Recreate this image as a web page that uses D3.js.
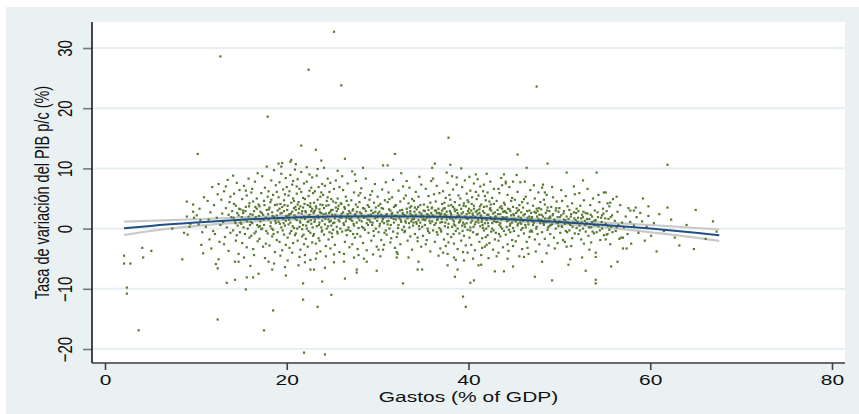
<!DOCTYPE html>
<html>
<head>
<meta charset="utf-8">
<script src="https://cdn.jsdelivr.net/npm/d3@7"></script>
<style>
  html, body { margin: 0; padding: 0; background: #ffffff; }
  svg { display: block; }
  text { font-family: "Liberation Sans", Arial, sans-serif; fill: #111; }
</style>
</head>
<body>
<svg id="chart" width="859" height="414"></svg>
<script>
// Axis ticks and titles
const xTicks = [0, 20, 40, 60, 80];
const yTicks = [-20, -10, 0, 10, 20, 30];
const xTitle = "Gastos (% of GDP)";
const yTitle = "Tasa de variación del PIB p/c (%)";

// Quadratic fit and its confidence band, sampled along gastos
const fitX   = [2.1, 5, 10, 15, 20, 25, 30, 35, 40, 45, 50, 55, 60, 65, 67.6];
const fitY   = [0.05, 0.45, 1.0, 1.45, 1.8, 2.0, 2.05, 2.0, 1.85, 1.5, 1.1, 0.6, 0.0, -0.7, -1.1];
const ciHigh = [1.15, 1.3, 1.55, 1.85, 2.12, 2.28, 2.32, 2.27, 2.12, 1.78, 1.42, 1.0, 0.6, 0.1, -0.15];
const ciLow  = [-1.05, -0.4, 0.45, 1.05, 1.48, 1.72, 1.78, 1.73, 1.58, 1.22, 0.78, 0.2, -0.6, -1.5, -2.05];

// Observations: [gastos (% of GDP), tasa de variación del PIB p/c (%)]
const puntos = [
[9.0,4.5],[9.7,4.0],[9.7,2.8],[9.0,2.0],[9.8,1.8],[9.4,0.8],[10.3,0.7],[9.3,0.3],[7.4,0.0],[8.7,-0.7],[9.1,-1.0],[10.6,-2.7],
[4.1,-3.2],[5.1,-3.7],[2.1,-4.5],[4.2,-4.8],[8.5,-5.1],[2.1,-5.8],[2.8,-5.8],[2.4,-9.8],[2.4,-10.8],[3.7,-16.9],[10.2,12.4],
[25.2,32.7],[12.7,28.6],[22.4,26.4],[26.0,23.8],[47.5,23.6],[17.9,18.6],[12.4,-15.1],[17.5,-16.9],[21.9,-20.6],[24.2,-20.9],
[18.5,-13.6],[21.8,-11.8],[23.4,-13.0],[24.9,-11.0],[39.4,-11.3],[39.7,-13.0],[61.9,10.6],[65.0,3.1],[59.2,5.0],[59.8,3.7],
[61.9,3.5],[60.1,-1.2],[60.7,-3.8],[62.7,-1.5],[66.1,-1.7],[45.4,12.3],[48.7,10.8],[46.4,10.1],[54.1,9.3],[50.8,9.3],
[21.6,13.8],[23.2,13.1],[19.1,10.8],[19.4,10.3],[20.4,11.1],[23.8,11.3],[12.5,-5.1],[12.4,-6.6],[14.3,-5.5],[14.7,-5.5],
[18.0,-5.5],[18.4,-6.8],[16.9,-7.5],[16.3,-8.1],[15.6,-8.1],[14.3,-8.5],[13.4,-9.0],[15.5,-10.1],[19.9,-7.8],[21.8,-9.1],
[23.9,-8.8],[22.6,-6.8],[23.0,-6.8],[22.0,-5.6],
[37.8,15.1],[26.4,11.6],[31.9,12.4],[30.6,10.5],[31.1,10.5],[28.4,10.1],[36.0,10.1],[36.3,10.8],[38.0,10.6],[27.2,9.5],
[40.8,9.0],[38.7,8.5],[26.4,-8.3],[27.7,-6.8],[27.7,-7.3],[29.9,-7.0],[32.8,-9.1],[34.4,-6.8],[34.9,-6.8],[34.5,-5.5],
[37.7,-6.1],[38.5,-8.0],[38.8,-6.8],[40.2,-9.0],[40.6,-8.6],[41.1,-6.1],[28.8,-5.5],[26.3,-5.5],[27.4,-4.8],[25.2,-4.3],
[32.1,-4.8],[32.2,-4.2],[30.1,-3.5],[30.6,-3.5],[37.7,-4.2],[38.4,-4.8],[39.5,-5.3],[39.9,-4.0],
[43.9,9.0],[44.9,7.8],[44.1,7.8],[48.2,7.3],[52.6,8.0],[53.1,6.6],[54.9,6.0],[55.1,6.0],[48.4,6.0],[41.7,7.3],
[43.3,-4.0],[44.3,-5.0],[44.9,-6.3],[42.9,-7.1],[43.9,-7.1],[46.1,-4.7],[46.6,-4.2],[47.3,-8.0],[48.1,-5.5],[49.2,-8.6],
[51.0,-6.0],[51.2,-5.1],[52.5,-4.8],[52.9,-7.0],[54.0,-4.0],[54.0,-4.7],[54.0,-8.5],[54.0,-9.1],[55.7,-6.3],[56.4,-5.5],
[57.0,-3.3],[57.4,-3.3],[55.1,-1.8],[41.4,-6.0],[41.5,-3.2],[42.0,-2.7],
[58.2,3.0],[57.8,3.0],[58.4,3.5],[56.8,-1.5],[57.0,-1.5],[55.2,-1.0],[56.3,0.2],[55.3,4.2],[55.6,4.3],
[10.4,3.3],[10.7,-0.6],[10.9,5.2],[10.5,1.4],[10.8,-4.1],[10.1,2.2],
[11.1,0.3],[11.3,4.6],[11.5,-1.8],[11.6,2.7],[11.8,6.9],[11.9,-0.4],[11.4,1.5],[11.7,-3.3],
[12.0,3.9],[12.1,-0.9],[12.3,1.8],[12.5,7.4],[12.6,-2.2],[12.7,0.6],[12.8,4.8],[12.9,2.5],[12.2,-5.9],[12.4,5.7],
[13.0,1.1],[13.1,6.2],[13.2,-1.4],[13.3,3.4],[13.4,0.2],[13.5,8.1],[13.6,2.3],[13.6,-3.7],[13.7,4.4],[13.8,-0.7],[13.9,1.9],[13.3,7.0],[13.8,5.3],[13.1,-2.6],
[14.0,2.9],[14.1,-0.3],[14.2,5.8],[14.3,1.3],[14.4,-2.0],[14.4,3.8],[14.5,7.6],[14.6,0.5],[14.7,2.2],[14.7,-4.2],[14.8,6.4],[14.9,1.0],[14.2,4.1],[14.5,-1.1],[14.9,3.2],[14.1,8.8],
[15.0,0.8],[15.1,4.9],[15.1,-2.4],[15.2,2.6],[15.3,7.1],[15.4,1.5],[15.4,-0.9],[15.5,3.6],[15.6,5.5],[15.6,-3.1],[15.7,0.0],[15.8,2.0],[15.8,8.3],[15.9,4.2],[15.3,-4.8],[15.5,6.3],[15.9,-1.5],[15.2,3.0],
[16.0,2.4],[16.1,6.0],[16.1,-1.2],[16.2,0.9],[16.3,4.5],[16.3,-3.4],[16.4,2.9],[16.5,7.8],[16.5,1.6],[16.6,-0.5],[16.7,5.0],[16.7,3.3],[16.8,-2.1],[16.8,9.2],[16.9,0.3],[16.9,4.0],[16.2,6.6],[16.4,-4.4],[16.6,1.9],[16.0,-6.2],
[17.0,3.7],[17.0,-1.7],[17.1,1.2],[17.2,5.9],[17.2,-0.1],[17.3,8.7],[17.4,2.3],[17.4,-3.0],[17.5,4.6],[17.5,0.6],[17.6,6.8],[17.7,1.8],[17.7,-2.5],[17.8,3.1],[17.8,10.3],[17.9,-0.8],[17.9,5.3],[17.1,2.8],[17.6,-4.9],[17.3,0.0],
[18.0,1.5],[18.0,6.2],[18.1,-2.8],[18.1,3.5],[18.2,0.4],[18.3,4.8],[18.3,8.0],[18.4,-1.3],[18.4,2.7],[18.5,5.6],[18.5,-0.2],[18.6,1.9],[18.6,9.7],[18.7,-3.9],[18.7,3.9],[18.8,0.9],[18.8,7.2],[18.9,2.2],[18.9,-1.9],[18.2,4.4],[18.6,-5.8],[18.9,6.1],
[19.0,3.0],[19.0,-0.6],[19.1,5.2],[19.1,1.1],[19.2,7.7],[19.2,-2.2],[19.3,2.5],[19.3,4.1],[19.4,0.2],[19.4,9.1],[19.5,-3.6],[19.5,3.6],[19.6,1.6],[19.6,6.5],[19.7,-1.0],[19.7,2.9],[19.8,5.7],[19.8,0.5],[19.9,8.4],[19.9,-2.7],[19.3,-4.5],[19.5,10.9],[19.7,4.7],[19.9,1.3],[19.2,3.3],[19.8,-6.4],
[20.0,2.0],[20.0,6.9],[20.1,-1.5],[20.1,3.8],[20.2,0.7],[20.2,5.5],[20.3,-3.2],[20.3,2.4],[20.4,8.9],[20.4,1.0],[20.5,4.3],[20.5,-0.4],[20.6,7.3],[20.6,2.8],[20.7,-2.4],[20.7,5.0],[20.8,0.1],[20.8,3.4],[20.9,9.8],[20.9,1.7],[20.1,-5.3],[20.3,6.2],[20.5,11.4],[20.6,-4.0],[20.8,4.6],[20.9,-1.1],[20.2,2.2],[20.7,7.9],
[21.0,3.1],[21.0,-0.8],[21.1,5.8],[21.1,1.4],[21.2,8.2],[21.2,-2.0],[21.3,2.6],[21.3,4.4],[21.4,0.3],[21.4,6.6],[21.5,-3.5],[21.5,3.7],[21.6,1.8],[21.6,9.4],[21.7,-1.3],[21.7,2.9],[21.8,5.1],[21.8,0.6],[21.9,7.5],[21.9,-2.6],[21.0,10.7],[21.2,4.0],[21.4,-4.7],[21.5,1.0],[21.6,6.1],[21.7,-0.1],[21.8,3.5],[21.9,2.0],[21.3,-6.1],[21.1,7.0],
[22.0,1.6],[22.0,4.9],[22.1,-1.7],[22.1,2.7],[22.2,7.8],[22.2,0.0],[22.3,3.9],[22.3,-3.0],[22.4,5.4],[22.4,1.2],[22.5,9.0],[22.5,2.3],[22.6,-0.7],[22.6,4.2],[22.7,6.8],[22.7,0.8],[22.8,-2.3],[22.8,3.3],[22.9,5.9],[22.9,1.9],[22.0,-4.4],[22.2,10.2],[22.4,-0.4],[22.5,6.3],[22.6,-5.2],[22.7,2.9],[22.8,8.5],[22.9,-1.2],[22.3,1.1],[22.6,3.6],
[23.0,2.8],[23.0,-0.9],[23.1,6.2],[23.1,1.5],[23.2,3.7],[23.2,-2.5],[23.3,8.8],[23.3,0.4],[23.4,4.8],[23.4,2.1],[23.5,-1.6],[23.5,6.9],[23.6,1.0],[23.6,3.2],[23.7,-3.8],[23.7,5.3],[23.8,0.2],[23.8,2.6],[23.9,7.4],[23.9,-0.3],[23.0,4.3],[23.2,-5.0],[23.4,9.9],[23.5,1.8],[23.6,-2.0],[23.7,4.0],[23.8,6.0],[23.9,1.3],[23.3,-4.1],[23.1,3.0],
[24.0,1.9],[24.0,5.6],[24.1,-1.0],[24.1,3.4],[24.2,0.7],[24.2,7.1],[24.3,-2.9],[24.3,2.5],[24.4,4.6],[24.4,0.0],[24.5,8.3],[24.5,2.0],[24.6,-1.8],[24.6,3.9],[24.7,6.1],[24.7,1.1],[24.8,-3.3],[24.8,2.8],[24.9,4.9],[24.9,0.5],[24.1,10.1],[24.3,-4.6],[24.5,5.2],[24.6,1.5],[24.7,-0.6],[24.8,7.6],[24.9,3.1],[24.2,-6.5],
[25.0,2.3],[25.0,-1.4],[25.1,4.5],[25.1,0.9],[25.2,6.6],[25.3,1.7],[25.3,-2.7],[25.4,3.5],[25.4,8.0],[25.5,0.3],[25.5,2.9],[25.6,5.0],[25.6,-0.8],[25.7,1.4],[25.7,3.8],[25.8,-3.9],[25.8,6.9],[25.9,2.1],[25.9,0.0],[25.2,-5.6],[25.4,4.3],[25.6,9.6],[25.8,1.2],[25.1,-0.2],
[26.0,1.8],[26.0,4.1],[26.1,-0.5],[26.2,2.7],[26.2,6.4],[26.3,0.6],[26.4,-2.2],[26.4,3.3],[26.5,5.3],[26.5,1.2],[26.6,-1.1],[26.7,2.4],[26.7,7.5],[26.8,0.2],[26.8,3.9],[26.9,-3.1],[26.9,1.6],[26.1,8.7],[26.3,-4.2],[26.6,4.6],[26.8,2.0],[26.5,-0.3],
[27.0,2.6],[27.0,-0.4],[27.1,4.7],[27.2,1.3],[27.2,-2.6],[27.3,3.2],[27.4,6.0],[27.4,0.5],[27.5,2.2],[27.5,-1.5],[27.6,4.0],[27.6,7.9],[27.7,1.0],[27.8,-3.4],[27.8,3.6],[27.9,0.1],[27.9,5.5],[27.1,1.9],[27.3,-0.9],[27.5,9.0],[27.7,2.8],[27.9,-4.4],
[28.0,1.4],[28.0,4.4],[28.1,-1.3],[28.2,2.5],[28.2,6.7],[28.3,0.3],[28.4,3.4],[28.4,-2.4],[28.5,1.8],[28.6,5.1],[28.6,-0.2],[28.7,2.9],[28.7,8.3],[28.8,0.9],[28.8,-3.6],[28.9,3.9],[28.9,1.5],[28.1,5.9],[28.5,-5.0],[28.3,2.1],
[29.0,2.2],[29.0,-0.7],[29.1,4.8],[29.2,1.1],[29.3,3.0],[29.3,-2.0],[29.4,6.2],[29.4,0.6],[29.5,2.6],[29.6,-1.2],[29.6,4.3],[29.7,1.7],[29.7,7.4],[29.8,0.0],[29.8,3.5],[29.9,-3.0],[29.9,2.0],[29.2,5.6],[29.5,-4.3],[29.1,1.4],
[30.0,1.9],[30.0,5.3],[30.1,-0.6],[30.2,2.8],[30.2,0.4],[30.3,4.1],[30.4,-1.9],[30.4,2.3],[30.5,6.5],[30.5,1.2],[30.6,3.3],[30.7,-2.7],[30.7,0.9],[30.8,4.7],[30.8,2.0],[30.9,-0.3],[30.9,7.7],[30.3,-4.6],[30.6,1.6],[30.1,3.8],
[31.0,2.4],[31.0,-1.0],[31.1,4.4],[31.2,1.3],[31.2,6.0],[31.3,0.0],[31.4,3.0],[31.4,-2.3],[31.5,1.8],[31.6,5.2],[31.6,2.6],[31.7,-0.5],[31.7,8.1],[31.8,1.0],[31.8,3.6],[31.9,-3.2],[31.9,2.1],[31.3,4.9],[31.5,-1.6],[31.1,0.7],
[32.0,1.5],[32.0,3.9],[32.1,-1.4],[32.2,2.7],[32.3,6.3],[32.3,0.6],[32.4,2.0],[32.5,-2.6],[32.5,4.5],[32.6,1.1],[32.7,3.1],[32.7,-0.2],[32.8,7.0],[32.8,2.4],[32.9,0.3],[32.9,5.0],[32.1,-3.9],[32.4,1.7],[32.6,9.2],[32.2,-0.8],
[33.0,2.2],[33.0,-0.4],[33.1,5.5],[33.1,1.0],[33.2,3.3],[33.3,-2.0],[33.3,1.7],[33.4,4.2],[33.5,0.2],[33.5,6.8],[33.6,2.5],[33.6,-1.3],[33.7,3.7],[33.7,1.2],[33.8,-3.5],[33.8,4.9],[33.9,2.0],[33.9,0.5],[33.2,7.9],[33.4,-4.8],[33.6,2.9],[33.8,1.5],
[34.0,1.6],[34.0,4.6],[34.1,-0.9],[34.2,2.3],[34.2,6.1],[34.3,0.8],[34.3,3.2],[34.4,-2.1],[34.5,1.4],[34.5,5.3],[34.6,2.7],[34.6,-0.1],[34.7,3.9],[34.7,1.0],[34.8,-3.0],[34.8,7.3],[34.9,2.1],[34.9,0.3],[34.1,3.5],[34.4,-1.5],[34.6,8.6],[34.8,2.5],
[35.0,2.0],[35.0,-1.2],[35.1,4.0],[35.2,0.6],[35.2,2.9],[35.3,6.6],[35.3,-2.6],[35.4,1.8],[35.5,3.6],[35.5,0.0],[35.6,5.4],[35.6,2.2],[35.7,-0.7],[35.7,1.3],[35.8,4.3],[35.8,-3.8],[35.9,2.6],[35.9,7.9],[35.1,1.5],[35.4,-1.9],[35.6,3.1],[35.8,0.9],
[36.0,1.2],[36.0,3.5],[36.1,-0.3],[36.2,5.7],[36.2,2.0],[36.3,-2.2],[36.4,0.9],[36.4,4.5],[36.5,2.6],[36.5,7.1],[36.6,-1.0],[36.6,1.6],[36.7,3.3],[36.8,0.1],[36.8,5.9],[36.9,-3.3],[36.9,2.3],[36.1,8.3],[36.3,3.0],[36.7,-4.5],[36.9,1.0],[36.5,-0.6],
[37.0,2.5],[37.0,-0.5],[37.1,4.1],[37.1,1.1],[37.2,6.2],[37.3,-1.8],[37.3,2.0],[37.4,3.4],[37.4,0.4],[37.5,5.1],[37.5,-2.9],[37.6,1.5],[37.6,2.8],[37.7,7.6],[37.7,-0.9],[37.8,3.8],[37.8,0.8],[37.9,1.9],[37.9,5.6],[37.2,-4.0],[37.4,2.4],[37.6,9.3],[37.8,-2.3],[37.1,3.0],
[38.0,1.7],[38.0,4.8],[38.1,-1.4],[38.1,2.3],[38.2,0.3],[38.3,3.6],[38.3,6.5],[38.4,-2.5],[38.4,1.2],[38.5,2.9],[38.5,4.4],[38.6,-0.4],[38.6,1.8],[38.7,7.3],[38.7,3.1],[38.8,0.0],[38.8,-3.4],[38.9,2.2],[38.9,5.5],[38.2,8.7],[38.4,0.7],[38.6,-5.2],[38.8,2.6],[38.1,3.9],
[39.0,2.1],[39.0,-0.8],[39.1,5.0],[39.1,1.4],[39.2,3.3],[39.2,-2.0],[39.3,0.5],[39.3,6.9],[39.4,2.7],[39.4,1.0],[39.5,-1.2],[39.5,4.2],[39.6,2.0],[39.6,8.0],[39.7,-2.8],[39.7,3.7],[39.8,0.9],[39.8,5.8],[39.9,1.6],[39.9,-0.2],[39.0,3.9],[39.2,10.0],[39.4,-3.9],[39.6,0.3],[39.8,2.4],[39.9,4.7],
[40.0,1.8],[40.0,4.4],[40.1,-1.5],[40.1,2.6],[40.2,0.2],[40.2,6.3],[40.3,3.0],[40.3,-2.7],[40.4,1.3],[40.4,5.2],[40.5,2.2],[40.5,-0.6],[40.6,3.8],[40.6,7.5],[40.7,0.7],[40.7,-3.6],[40.8,2.8],[40.8,1.1],[40.9,4.9],[40.9,-1.0],[40.1,8.6],[40.3,1.9],[40.5,-5.0],[40.6,3.3],[40.8,6.1],[40.2,-0.3],
[41.0,2.4],[41.0,-0.9],[41.1,5.5],[41.1,1.0],[41.2,3.2],[41.2,-2.2],[41.3,0.4],[41.3,7.0],[41.4,2.0],[41.4,4.0],[41.5,-1.6],[41.5,1.5],[41.6,6.2],[41.6,2.9],[41.7,-0.3],[41.7,3.6],[41.8,0.9],[41.8,-3.0],[41.9,4.7],[41.9,1.7],[41.0,8.2],[41.2,2.6],[41.4,-4.4],[41.6,0.1],[41.8,5.4],[41.9,-1.4],
[42.0,1.4],[42.0,3.7],[42.1,-1.1],[42.1,6.0],[42.2,2.3],[42.2,0.4],[42.3,4.5],[42.3,-2.4],[42.4,1.9],[42.4,7.8],[42.5,3.0],[42.5,-0.5],[42.6,0.9],[42.6,5.1],[42.7,2.5],[42.7,-3.5],[42.8,1.2],[42.8,4.1],[42.9,-1.8],[42.9,2.7],[42.0,9.1],[42.2,-4.9],[42.4,3.4],[42.6,0.0],[42.8,6.6],[42.9,1.6],
[43.0,2.0],[43.0,-0.7],[43.1,4.6],[43.2,1.1],[43.2,3.1],[43.3,-2.0],[43.4,0.6],[43.4,5.9],[43.5,2.4],[43.5,-1.3],[43.6,3.7],[43.6,1.5],[43.7,7.2],[43.7,0.0],[43.8,2.8],[43.8,-3.1],[43.9,4.3],[43.9,1.8],[43.1,-4.6],[43.3,6.6],[43.5,0.9],[43.7,3.3],[43.9,-0.4],[43.6,8.4],
[44.0,1.7],[44.0,4.0],[44.1,-1.0],[44.2,2.6],[44.2,0.3],[44.3,5.6],[44.3,-2.6],[44.4,1.4],[44.5,3.2],[44.5,6.9],[44.6,0.8],[44.6,-0.6],[44.7,2.2],[44.7,4.6],[44.8,-1.9],[44.8,1.0],[44.9,3.6],[44.9,0.1],[44.1,7.5],[44.4,-3.7],[44.6,2.9],[44.8,5.1],[44.2,1.9],[44.9,-2.9],
[45.0,2.2],[45.0,-0.4],[45.1,4.8],[45.2,1.2],[45.2,-2.1],[45.3,3.4],[45.4,0.5],[45.4,6.1],[45.5,2.0],[45.5,-1.2],[45.6,3.9],[45.7,1.0],[45.7,7.7],[45.8,-0.2],[45.8,2.7],[45.9,4.4],[45.9,-3.4],[45.1,1.6],[45.3,8.9],[45.6,-4.6],[45.8,0.8],[45.4,2.9],
[46.0,1.3],[46.0,3.5],[46.1,-0.8],[46.2,2.4],[46.3,5.3],[46.3,0.2],[46.4,-2.2],[46.5,1.8],[46.5,4.2],[46.6,0.7],[46.7,3.0],[46.7,-1.4],[46.8,6.4],[46.8,1.5],[46.9,-0.3],[46.9,2.6],[46.2,7.8],[46.5,-3.2],[46.7,2.0],[46.1,4.9],
[47.0,1.9],[47.0,-0.5],[47.1,3.8],[47.2,1.0],[47.3,5.0],[47.3,-1.8],[47.4,2.6],[47.5,0.3],[47.5,3.3],[47.6,-0.9],[47.7,1.6],[47.7,6.0],[47.8,2.3],[47.8,-2.6],[47.9,0.9],[47.9,4.4],[47.2,7.2],[47.4,-3.8],[47.6,2.9],[47.1,0.6],
[48.0,1.4],[48.0,3.2],[48.1,-0.6],[48.2,2.0],[48.3,4.8],[48.3,0.6],[48.4,-1.7],[48.5,2.6],[48.5,1.1],[48.6,5.6],[48.7,-0.2],[48.7,3.5],[48.8,1.7],[48.8,-2.8],[48.9,0.4],[48.9,2.9],[48.1,6.8],[48.4,4.0],[48.6,-4.1],[48.9,1.2],
[49.0,1.8],[49.0,-0.9],[49.1,3.6],[49.2,0.7],[49.3,2.4],[49.3,5.2],[49.4,-1.5],[49.5,1.3],[49.6,3.0],[49.6,0.0],[49.7,4.5],[49.8,-2.4],[49.8,1.9],[49.9,2.8],[49.9,0.4],[49.2,6.9],[49.5,-3.3],[49.7,1.0],
[50.0,1.2],[50.0,3.4],[50.1,-0.7],[50.2,2.2],[50.3,0.3],[50.3,4.6],[50.4,-1.9],[50.5,1.5],[50.5,2.9],[50.6,0.8],[50.7,5.4],[50.7,-0.4],[50.8,2.0],[50.8,-3.0],[50.9,1.0],[50.9,3.7],[50.2,6.4],[50.6,-2.2],
[51.0,1.6],[51.1,-0.3],[51.1,3.1],[51.2,0.6],[51.3,2.4],[51.4,-1.6],[51.4,4.2],[51.5,1.0],[51.6,2.7],[51.7,-0.8],[51.7,5.7],[51.8,1.4],[51.9,0.1],[51.9,3.3],[51.3,-2.9],[51.6,7.0],
[52.0,1.1],[52.1,2.9],[52.1,-0.9],[52.2,0.5],[52.3,3.8],[52.4,-1.8],[52.4,1.7],[52.5,2.3],[52.6,0.0],[52.7,4.7],[52.7,-2.5],[52.8,1.3],[52.9,2.6],[52.9,-0.5],[52.2,5.9],[52.6,1.9],
[53.0,0.9],[53.1,2.5],[53.2,-1.2],[53.3,1.6],[53.4,3.9],[53.5,0.2],[53.5,-2.3],[53.6,2.0],[53.7,5.0],[53.8,0.6],[53.8,-0.8],[53.9,3.0],[53.3,-3.5],[53.6,1.1],
[54.0,1.4],[54.1,-0.6],[54.2,2.7],[54.3,0.4],[54.4,4.4],[54.5,-1.9],[54.6,1.8],[54.7,0.0],[54.8,3.3],[54.9,-1.1],[54.3,5.6],[54.7,2.2],
[55.1,0.8],[55.2,2.9],[55.3,-0.9],[55.4,1.6],[55.5,3.7],[55.6,-2.6],[55.7,0.3],[55.8,2.2],[55.9,4.9],[55.5,-0.2],
[56.1,1.3],[56.2,-0.4],[56.4,2.8],[56.5,0.6],[56.6,-1.7],[56.7,3.9],[56.9,1.0],[56.3,5.3],
[57.1,0.2],[57.3,2.0],[57.5,-0.9],[57.6,3.4],[57.8,1.1],[57.9,-2.5],
[58.2,0.5],[58.5,1.9],[58.7,-0.7],[58.9,2.6],
[59.1,1.2],[59.4,-2.0],[59.6,0.3],[59.8,2.1],
[60.4,0.9],[61.0,2.4],[61.5,-0.4],[62.3,1.5],[63.2,-2.8],[64.0,0.6],[64.8,-3.4],[66.9,1.2],[67.3,-0.5],
[14.15,1.8],[14.35,0.9],[14.55,2.6],[14.75,3.3],[14.85,-0.6],
[15.05,1.9],[15.25,0.2],[15.45,2.9],[15.65,1.2],[15.85,3.7],[15.95,0.6],
[16.05,1.1],[16.25,2.3],[16.45,-0.8],[16.55,3.6],[16.75,0.6],[16.95,2.1],
[17.05,0.4],[17.25,2.6],[17.45,1.5],[17.55,3.9],[17.75,-0.4],[17.95,2.4],
[18.05,3.2],[18.25,1.0],[18.45,2.1],[18.55,-0.9],[18.75,1.3],[18.95,4.0],[18.35,0.0],
[19.05,1.7],[19.25,0.8],[19.45,2.6],[19.55,-0.3],[19.75,3.9],[19.95,2.1],[19.65,0.9],
[20.05,3.1],[20.25,1.5],[20.35,-0.8],[20.45,2.5],[20.65,0.4],[20.85,2.2],[20.95,3.6],
[21.05,1.9],[21.15,0.0],[21.35,3.3],[21.45,1.2],[21.65,2.5],[21.85,-1.0],[21.95,4.1],
[22.05,2.9],[22.15,0.5],[22.35,2.0],[22.55,3.7],[22.65,1.4],[22.85,0.2],[22.95,2.6],
[23.05,1.1],[23.25,3.4],[23.35,2.0],[23.55,0.6],[23.65,2.7],[23.85,-0.5],[23.95,3.9],
[24.05,2.4],[24.25,1.6],[24.35,3.8],[24.55,0.4],[24.65,2.6],[24.85,1.3],[24.95,-0.8],
[25.05,3.1],[25.25,1.0],[25.35,2.3],[25.55,-0.5],[25.65,3.3],[25.85,1.9],[25.95,4.2],
[26.05,2.5],[26.25,0.9],[26.35,3.6],[26.55,1.7],[26.75,-0.2],[26.85,2.9],
[27.05,1.5],[27.25,3.0],[27.35,0.8],[27.55,2.4],[27.75,-0.9],[27.85,1.8],
[28.05,2.7],[28.25,1.2],[28.45,0.1],[28.55,3.3],[28.75,2.0],[28.95,0.6],
[29.05,3.6],[29.25,2.3],[29.45,1.0],[29.55,-0.4],[29.75,2.8],[29.95,1.3],
[30.05,2.5],[30.25,0.8],[30.45,3.4],[30.55,1.7],[30.75,-0.7],[30.95,2.2],
[31.05,1.2],[31.25,3.2],[31.45,0.6],[31.55,2.4],[31.75,1.6],[31.95,3.8],
[32.05,2.1],[32.25,0.1],[32.45,3.0],[32.55,1.4],[32.75,2.6],[32.95,-0.6],
[33.05,1.3],[33.25,2.7],[33.45,0.9],[33.55,3.5],[33.75,2.2],[33.95,1.0],
[34.05,2.8],[34.25,1.1],[34.45,3.6],[34.55,0.4],[34.75,2.0],[34.95,1.5],
[35.05,3.0],[35.25,1.4],[35.45,2.4],[35.55,-0.4],[35.75,1.9],[35.95,3.4],
[36.05,2.2],[36.25,0.6],[36.45,3.0],[36.55,1.4],[36.75,2.6],[36.95,-0.2],
[37.05,1.6],[37.25,3.3],[37.45,1.0],[37.55,2.2],[37.75,0.2],[37.95,2.9],[37.35,4.3],
[38.05,2.6],[38.25,1.5],[38.45,3.3],[38.55,0.5],[38.75,2.0],[38.95,1.0],[38.35,-0.9],
[39.05,1.2],[39.25,2.5],[39.45,3.8],[39.55,0.7],[39.75,1.8],[39.95,2.9],[39.35,-0.4],
[40.05,3.3],[40.25,1.0],[40.45,2.5],[40.55,0.3],[40.75,1.9],[40.95,3.0],[40.35,4.1],
[41.05,1.4],[41.25,3.7],[41.35,2.2],[41.55,0.6],[41.75,2.6],[41.95,0.0],[41.45,1.1],
[42.05,2.3],[42.15,0.9],[42.35,3.2],[42.55,1.6],[42.75,-0.3],[42.95,2.0],[42.45,4.0],
[43.05,1.1],[43.25,2.4],[43.45,3.5],[43.55,0.3],[43.75,1.9],[43.95,2.8],[43.35,-0.9],
[44.05,2.9],[44.25,1.2],[44.35,3.3],[44.55,0.5],[44.75,1.6],[44.95,2.4],[44.45,-0.2],
[45.05,1.5],[45.25,2.6],[45.45,0.8],[45.55,3.1],[45.75,1.8],[45.95,0.1],
[46.05,2.2],[46.25,0.6],[46.45,2.9],[46.55,1.2],[46.75,-0.5],[46.95,1.8],
[47.05,1.2],[47.25,2.8],[47.45,0.0],[47.55,2.0],[47.75,3.4],[47.95,1.3],
[48.05,2.3],[48.25,0.9],[48.45,1.7],[48.65,3.0],[48.75,0.2],[48.95,2.0],
[49.05,0.6],[49.25,2.2],[49.45,1.5],[49.65,3.4],[49.85,0.9],
[50.05,1.9],[50.25,0.4],[50.45,2.5],[50.65,1.4],[50.85,-0.6],
[51.05,0.9],[51.25,2.0],[51.45,0.3],[51.65,1.7],[51.85,2.6],
[52.05,1.8],[52.25,-0.3],[52.45,1.0],[52.65,2.8],[52.85,0.6],
[53.05,1.6],[53.25,0.2],[53.45,2.3],[53.65,-0.5],[53.85,1.3],
[54.05,0.6],[54.25,1.9],[54.45,-0.3],[54.65,1.1],[54.85,2.5],
[55.05,1.7],[55.35,0.4],[55.65,1.9],[55.85,-0.6]
];

// ---- layout ----
const W = 859, H = 414;
const plot = { left: 92, right: 845, top: 22, bottom: 363 };
const stretch = 1.4;          // glyphs are set wide
const fontSize = 15;

const svg = d3.select("#chart");

// graph region background
svg.append("rect")
  .attr("x", 6).attr("y", 7)
  .attr("width", W - 6).attr("height", H - 7)
  .attr("fill", "#e9f1f3");

// plot region
svg.append("rect")
  .attr("x", plot.left).attr("y", plot.top)
  .attr("width", plot.right - plot.left).attr("height", plot.bottom - plot.top)
  .attr("fill", "#ffffff");

const x = d3.scaleLinear().domain([0, 80]).range([105, 832]);
const y = d3.scaleLinear().domain([-20, 30]).range([349, 48]);

// horizontal grid
svg.append("g")
  .selectAll("line")
  .data(yTicks)
  .join("line")
  .attr("x1", plot.left).attr("x2", plot.right)
  .attr("y1", d => y(d)).attr("y2", d => y(d))
  .attr("stroke", "#e7eff2")
  .attr("stroke-width", 2);

// confidence band edges
const lineOf = vals => d3.line()
  .x((d, i) => x(fitX[i]))
  .y(d => y(d))
  .curve(d3.curveMonotoneX)(vals);

[ciHigh, ciLow].forEach(vals => {
  svg.append("path")
    .attr("d", lineOf(vals))
    .attr("fill", "none")
    .attr("stroke", "#c9c9c9")
    .attr("stroke-width", 2.2);
});

// observations
svg.append("g")
  .selectAll("rect")
  .data(puntos)
  .join("rect")
  .attr("x", d => x(d[0]) - 1.1)
  .attr("y", d => y(d[1]) - 1.1)
  .attr("width", 2.2)
  .attr("height", 2.2)
  .attr("fill", "#56792f");

// fitted values
svg.append("path")
  .attr("d", lineOf(fitY))
  .attr("fill", "none")
  .attr("stroke", "#1f4f86")
  .attr("stroke-width", 2);

// y axis
const yAxis = svg.append("g")
  .attr("transform", `translate(${plot.left},0)`)
  .call(d3.axisLeft(y).tickValues(yTicks).tickSize(9).tickFormat(d3.format("d")));
yAxis.select(".domain").remove();
yAxis.selectAll(".tick line").attr("stroke", "#7a7a7a").attr("stroke-width", 1.6);
yAxis.selectAll(".tick text")
  .attr("x", null).attr("dy", null)
  .attr("text-anchor", "middle")
  .attr("font-size", fontSize)
  .attr("fill", "#111")
  .attr("transform", `translate(-20,0) scale(${stretch},1) rotate(-90)`);
svg.append("line")
  .attr("x1", plot.left).attr("x2", plot.left)
  .attr("y1", plot.top).attr("y2", plot.bottom)
  .attr("stroke", "#1a1a1a").attr("stroke-width", 1.6);

// x axis
const xAxis = svg.append("g")
  .attr("transform", `translate(0,${plot.bottom})`)
  .call(d3.axisBottom(x).tickValues(xTicks).tickSize(7).tickFormat(d3.format("d")));
xAxis.select(".domain").remove();
xAxis.selectAll(".tick line").attr("stroke", "#444").attr("stroke-width", 1.6);
xAxis.selectAll(".tick text")
  .attr("y", null).attr("dy", null)
  .attr("text-anchor", "middle")
  .attr("font-size", fontSize)
  .attr("fill", "#111")
  .attr("transform", `translate(0,21.5) scale(${stretch},1)`);
svg.append("line")
  .attr("x1", plot.left).attr("x2", plot.right)
  .attr("y1", plot.bottom).attr("y2", plot.bottom)
  .attr("stroke", "#3a3a3a").attr("stroke-width", 1.6);

// axis titles
svg.append("text")
  .attr("transform", `translate(${(plot.left + plot.right) / 2},401.5) scale(${stretch},1)`)
  .attr("text-anchor", "middle")
  .attr("font-size", fontSize)
  .text(xTitle);

svg.append("text")
  .attr("transform", `translate(49,${(plot.top + plot.bottom) / 2}) scale(${stretch},1) rotate(-90)`)
  .attr("text-anchor", "middle")
  .attr("font-size", fontSize - 0.5)
  .text(yTitle);
</script>
</body>
</html>
